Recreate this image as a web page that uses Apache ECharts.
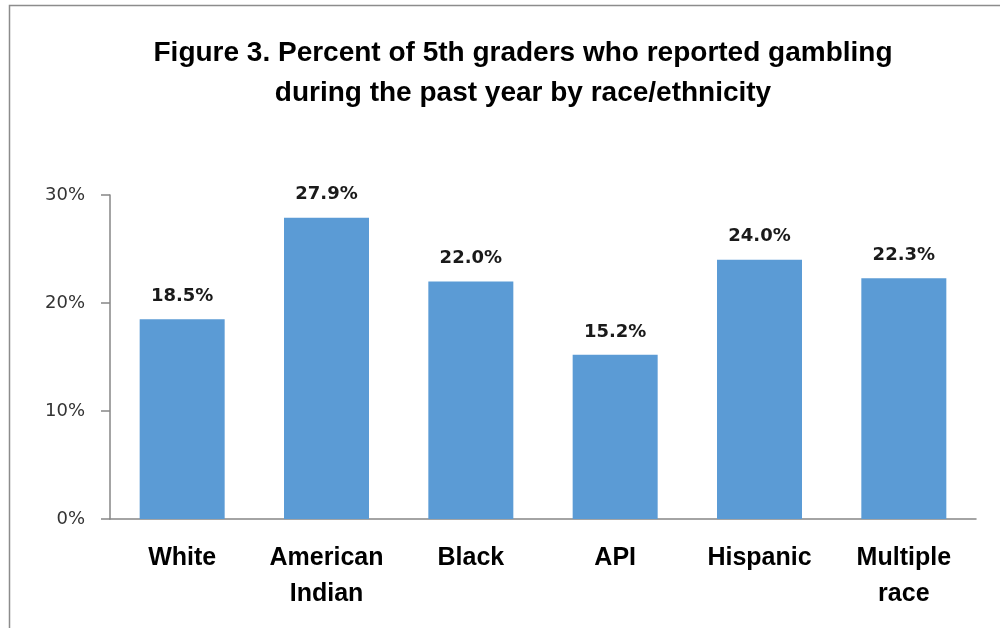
<!DOCTYPE html>
<html><head><meta charset="utf-8">
<script src="https://cdn.jsdelivr.net/npm/echarts@6/dist/echarts.min.js"></script>
<style>html,body{margin:0;padding:0;background:#fff}#c{width:1000px;height:628px}</style>
</head><body><div id="c"></div>
<script>
const categories = ['White', 'American\nIndian', 'Black', 'API', 'Hispanic', 'Multiple\nrace'];
const values = [18.5, 27.9, 22.0, 15.2, 24.0, 22.3];
const yTicks = [0, 10, 20, 30];
const titleLines = ['Figure 3. Percent of 5th graders who reported gambling', 'during the past year by race/ethnicity'];

const chart = echarts.init(document.getElementById('c'), null, {renderer: 'canvas'});
chart.setOption({
  animation: false,
  backgroundColor: '#fff',
  graphic: [{
    type: 'rect', left: 7, top: 3, shape: {width: 1100, height: 700},
    style: {fill: 'none', stroke: '#8c8c8c', lineWidth: 1.5}
  }],
  title: {
    text: titleLines.join('\n'),
    left: 518, top: 28, textAlign: 'center',
    textStyle: {fontFamily: 'Liberation Sans', fontWeight: 'bold', fontSize: 28, lineHeight: 40, color: '#000'}
  },
  grid: {left: 110, right: 24, top: 195, bottom: 109, containLabel: false},
  xAxis: {
    type: 'category', data: categories,
    axisLine: {lineStyle: {color: '#868686', width: 1.5}},
    axisTick: {show: false},
    axisLabel: {fontFamily: 'Liberation Sans', fontWeight: 'bold', fontSize: 25, lineHeight: 36, color: '#000', margin: 21, interval: 0}
  },
  yAxis: {
    type: 'value', min: 0, max: 30, interval: 10,
    axisLine: {show: true, lineStyle: {color: '#868686', width: 1.5}},
    axisTick: {show: true, length: 9, lineStyle: {color: '#868686', width: 1.5}},
    splitLine: {show: false},
    axisLabel: {formatter: v => yTicks.includes(v) ? v + '%' : '', fontFamily: 'DejaVu Sans', fontSize: 18, color: '#333', margin: 25}
  },
  series: [{
    type: 'bar', data: values, barWidth: 85,
    itemStyle: {color: '#5B9BD5'},
    label: {show: true, position: 'top', distance: 14, formatter: p => p.value.toFixed(1) + '%',
      fontFamily: 'DejaVu Sans', fontWeight: 'bold', fontSize: 18, color: '#1a1a1a'}
  }]
});
</script></body></html>
